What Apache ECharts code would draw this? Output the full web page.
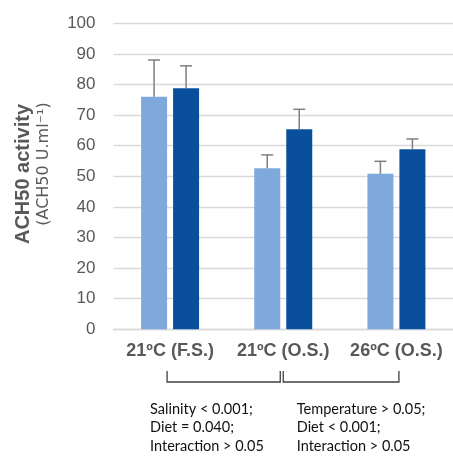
<!DOCTYPE html>
<html>
<head>
<meta charset="utf-8">
<script src="https://cdn.jsdelivr.net/npm/echarts@6/dist/echarts.min.js"></script>
<style>
html,body{margin:0;padding:0;background:#fff;}
#chart{width:453px;height:457px;}
</style>
</head>
<body>
<div id="chart"></div>
<script>
const categories = ['21ºC (F.S.)', '21ºC (O.S.)', '26ºC (O.S.)'];
const lightValues = [76, 52.6, 50.8];
const lightErrors = [12, 4.4, 4.1];
const darkValues = [78.8, 65.4, 58.8];
const darkErrors = [7.3, 6.5, 3.4];
const yTicks = { min: 0, max: 100, interval: 10 };
const leftNotes = ['Salinity < 0.001;', 'Diet = 0.040;', 'Interaction > 0.05'];
const rightNotes = ['Temperature > 0.05;', 'Diet < 0.001;', 'Interaction > 0.05'];

const BAR_W = 26, BAR_GAP = 6;
const LIGHT = '#7FA9DC', DARK = '#0A4F9B', ERR = '#7F7F7F', GREY = '#595959';

function errSeries(values, errors, sign) {
  return {
    type: 'custom',
    z: 5,
    data: values.map((v, i) => [i, v, errors[i]]),
    encode: { x: 0, y: 1 },
    renderItem: function (params, api) {
      const i = api.value(0), v = api.value(1), e = api.value(2);
      const base = api.coord([i, v]);
      const top = api.coord([i, v + e]);
      const x = base[0] + sign * (BAR_W + BAR_GAP) / 2;
      const style = { stroke: ERR, lineWidth: 1.5 };
      return {
        type: 'group',
        children: [
          { type: 'line', shape: { x1: x, y1: base[1], x2: x, y2: top[1] }, style: style },
          { type: 'line', shape: { x1: x - 6, y1: top[1], x2: x + 6, y2: top[1] }, style: style }
        ]
      };
    }
  };
}

const chart = echarts.init(document.getElementById('chart'), null, { renderer: 'canvas' });
chart.setOption({
  animation: false,
  backgroundColor: '#fff',
  grid: { left: 113.5, right: -5, top: 23.3, bottom: 127.7 },
  xAxis: {
    type: 'category',
    data: categories,
    axisTick: { show: false },
    axisLine: { lineStyle: { color: '#D9D9D9', width: 1.3 } },
    axisLabel: { interval: 0, hideOverlap: false, color: GREY, fontSize: 18, fontWeight: 'bold', fontFamily: 'Liberation Sans', margin: 13 }
  },
  yAxis: {
    type: 'value',
    min: yTicks.min, max: yTicks.max, interval: yTicks.interval,
    axisLine: { show: false },
    axisTick: { show: false },
    axisLabel: { color: GREY, fontSize: 17, fontFamily: 'Liberation Sans', margin: 18 },
    splitLine: { lineStyle: { color: '#D9D9D9', width: 1.3 } }
  },
  series: [
    { type: 'bar', data: lightValues, barWidth: BAR_W, barGap: (BAR_GAP / BAR_W * 100) + '%', itemStyle: { color: LIGHT } },
    { type: 'bar', data: darkValues, barWidth: BAR_W, itemStyle: { color: DARK } },
    errSeries(lightValues, lightErrors, -1),
    errSeries(darkValues, darkErrors, 1)
  ]
});

const c = categories.map((_, i) => chart.convertToPixel({ xAxisIndex: 0 }, i));
const bY1 = 371, bY2 = 382;
function bracket(x1, x2) {
  return {
    type: 'polyline',
    shape: { points: [[x1, bY1], [x1, bY2], [x2, bY2], [x2, bY1]] },
    style: { stroke: '#404040', lineWidth: 1.3, fill: null }
  };
}
function notes(lines, x) {
  return lines.map((t, k) => ({
    type: 'text',
    x: x, y: 409 + k * 18.5,
    style: { text: t, fill: '#111111', font: '14.5px Lato', textAlign: 'left', textVerticalAlign: 'middle' }
  }));
}
chart.setOption({
  graphic: [
    {
      type: 'text', x: 23, y: 174, rotation: Math.PI / 2,
      style: { text: 'ACH50 activity', fill: GREY, font: 'bold 20px "Liberation Sans"', textAlign: 'center', textVerticalAlign: 'middle' }
    },
    {
      type: 'text', x: 44, y: 164, rotation: Math.PI / 2,
      style: { text: '(ACH50 U.ml⁻¹)', fill: GREY, font: '16px "DejaVu Sans"', textAlign: 'center', textVerticalAlign: 'middle' }
    },
    bracket(c[0] - 3, c[1] - 3),
    bracket(c[1], c[2] + 2.5)
  ].concat(notes(leftNotes, c[0] - 20)).concat(notes(rightNotes, c[1] + 13.5))
});
</script>
</body>
</html>
